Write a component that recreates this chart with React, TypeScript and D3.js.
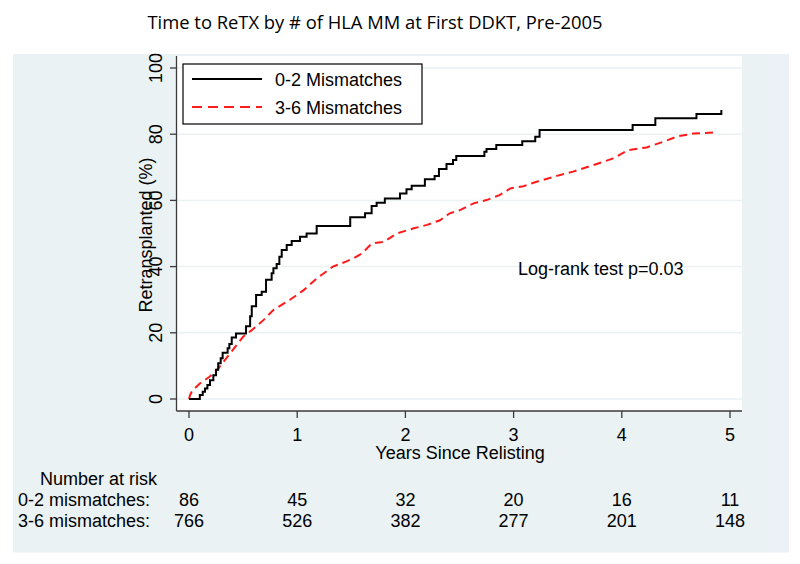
import React from "react";
import * as d3 from "d3";

const yearTicks = [0, 1, 2, 3, 4, 5];
const pctTicks = [0, 20, 40, 60, 80, 100];
const groupLabels = ["0-2 Mismatches", "3-6 Mismatches"];
const riskLabels = ["0-2 mismatches:", "3-6 mismatches:"];
const riskLow = [86, 45, 32, 20, 16, 11];
const riskHigh = [766, 526, 382, 277, 201, 148];

// 0-2 mismatches (step function): time in years, cumulative % retransplanted
const lowTimes = [0, 0.1, 0.127, 0.148, 0.17, 0.194, 0.225, 0.25, 0.27, 0.293, 0.311, 0.357, 0.373, 0.395, 0.434, 0.527, 0.565, 0.58, 0.62, 0.672, 0.712, 0.764, 0.78, 0.81, 0.835, 0.857, 0.903, 0.949, 1.026, 1.087, 1.18, 1.49, 1.627, 1.688, 1.734, 1.81, 1.95, 2.01, 2.058, 2.18, 2.27, 2.31, 2.38, 2.44, 2.47, 2.73, 2.75, 2.84, 3.08, 3.2, 3.24, 4.1, 4.31, 4.69, 4.92];
const lowPct = [0, 1.2, 2.2, 3.2, 4.2, 5.7, 7.2, 8.8, 10.8, 12.3, 14.0, 15.3, 16.6, 18.6, 19.8, 22, 25, 28, 31.4, 32.4, 36, 38, 39.5, 40.8, 43, 45, 46.5, 47.7, 49, 50, 52.3, 54.9, 56.1, 58.3, 59.3, 60.6, 62.1, 63.4, 64.4, 66.4, 67.4, 69.5, 71, 72.2, 73.4, 74.7, 75.5, 76.7, 77.9, 79.2, 81.3, 82.8, 84.8, 86.1, 87.3];

// 3-6 mismatches
const highTimes = [0, 0.01, 0.03, 0.1, 0.19, 0.27, 0.38, 0.5, 0.58, 0.69, 0.78, 0.93, 1.06, 1.18, 1.33, 1.45, 1.52, 1.6, 1.69, 1.8, 1.92, 2.07, 2.2, 2.32, 2.41, 2.5, 2.63, 2.75, 2.87, 2.97, 3.09, 3.22, 3.4, 3.55, 3.74, 3.92, 4.06, 4.23, 4.39, 4.51, 4.66, 4.85];
const highPct = [0, 1.2, 2.5, 4.7, 6.7, 9.2, 13.8, 18.8, 20.8, 23.9, 26.9, 29.9, 32.9, 36.4, 40, 41.5, 42.5, 44, 47, 47.5, 50, 51.5, 52.6, 54, 56.1, 57, 59.1, 60.1, 61.6, 63.6, 64.3, 65.7, 67.4, 68.7, 70.7, 72.7, 75.2, 76, 77.8, 79.3, 80.2, 80.5];

const FONT = "'Liberation Sans', Arial, sans-serif";

export default function App() {
  const x = d3.scaleLinear().domain([0, 5]).range([189, 730]);
  const y = d3.scaleLinear().domain([0, 100]).range([399, 68]);

  const lowData = lowTimes.map((t, i) => [t, lowPct[i]] as [number, number]);
  const highData = highTimes.map((t, i) => [t, highPct[i]] as [number, number]);

  const stepLine = d3
    .line<[number, number]>()
    .x((d) => x(d[0]))
    .y((d) => y(d[1]))
    .curve(d3.curveStepAfter);
  const smoothLine = d3
    .line<[number, number]>()
    .x((d) => x(d[0]))
    .y((d) => y(d[1]))
    .curve(d3.curveLinear);

  const plotLeft = 176.5;
  const plotRight = 742;
  const plotTop = 56;
  const plotBottom = 411;
  const axisColor = "#3a3a3a";

  return (
    <svg
      width={800}
      height={564}
      style={{ position: "absolute", left: 0, top: 0, background: "#fff" }}
      fontFamily={FONT}
    >
      <text
        x={375}
        y={29}
        textAnchor="middle"
        fontFamily="'Open Sans', 'Noto Sans', sans-serif"
        fontSize={19}
        textLength={455}
        lengthAdjust="spacingAndGlyphs"
        fill="#000"
      >
        Time to ReTX by # of HLA MM at First DDKT, Pre-2005
      </text>

      {/* background panel */}
      <rect x={13} y={54} width={755} height={498.5} fill="#eaf2f3" />
      <rect x={767} y={54} width={22} height={498.5} fill="#ecf1f8" />
      {/* plot region */}
      <rect x={plotLeft} y={plotTop} width={plotRight - plotLeft} height={plotBottom - plotTop} fill="#fff" />

      {/* gridlines */}
      {pctTicks.map((v) => (
        <line key={"g" + v} x1={plotLeft} x2={plotRight} y1={y(v)} y2={y(v)} stroke="#eaf2f3" strokeWidth={1.5} />
      ))}

      {/* axes */}
      <line x1={plotLeft} x2={plotLeft} y1={plotTop} y2={plotBottom} stroke={axisColor} strokeWidth={1.3} />
      <line x1={plotLeft} x2={plotRight} y1={plotBottom} y2={plotBottom} stroke={axisColor} strokeWidth={1.3} />
      {pctTicks.map((v) => (
        <g key={"yt" + v}>
          <line x1={plotLeft - 6.5} x2={plotLeft} y1={y(v)} y2={y(v)} stroke={axisColor} strokeWidth={1.3} />
          <text
            transform={`translate(162,${y(v)}) rotate(-90)`}
            textAnchor="middle"
            fontSize={18}
            fill="#000"
          >
            {v}
          </text>
        </g>
      ))}
      {yearTicks.map((v) => (
        <g key={"xt" + v}>
          <line x1={x(v)} x2={x(v)} y1={plotBottom} y2={plotBottom + 7} stroke={axisColor} strokeWidth={1.3} />
          <text x={x(v)} y={441} textAnchor="middle" fontSize={18} fill="#000">
            {v}
          </text>
        </g>
      ))}
      <text x={460} y={459} textAnchor="middle" fontSize={18} fill="#000">
        Years Since Relisting
      </text>
      <text transform={`translate(152,235) rotate(-90)`} textAnchor="middle" fontSize={18} fill="#000">
        Retransplanted (%)
      </text>

      {/* curves */}
      <path d={smoothLine(highData) || ""} fill="none" stroke="#ff1a1a" strokeWidth={2} strokeDasharray="8,5" />
      <path d={stepLine(lowData) || ""} fill="none" stroke="#000" strokeWidth={2} />

      {/* legend */}
      <rect x={183} y={64} width={239} height={60} fill="#fff" stroke="#000" strokeWidth={1.2} />
      <line x1={192} x2={262} y1={79} y2={79} stroke="#000" strokeWidth={2} />
      <line x1={192} x2={262} y1={107} y2={107} stroke="#ff1a1a" strokeWidth={2} strokeDasharray="10,6" />
      <text x={275} y={85.5} fontSize={18} fill="#000">
        {groupLabels[0]}
      </text>
      <text x={275} y={113.5} fontSize={18} fill="#000">
        {groupLabels[1]}
      </text>

      <text x={518} y={275} fontSize={18} fill="#000">
        Log-rank test p=0.03
      </text>

      {/* number at risk */}
      <text x={40} y={484.5} fontSize={18} fill="#000">
        Number at risk
      </text>
      <text x={18} y={505.5} fontSize={18} fill="#000">
        {riskLabels[0]}
      </text>
      <text x={18} y={526.5} fontSize={18} fill="#000">
        {riskLabels[1]}
      </text>
      {yearTicks.map((v, i) => (
        <g key={"r" + v}>
          <text x={x(v)} y={505.5} textAnchor="middle" fontSize={18} fill="#000">
            {riskLow[i]}
          </text>
          <text x={x(v)} y={526.5} textAnchor="middle" fontSize={18} fill="#000">
            {riskHigh[i]}
          </text>
        </g>
      ))}
    </svg>
  );
}
